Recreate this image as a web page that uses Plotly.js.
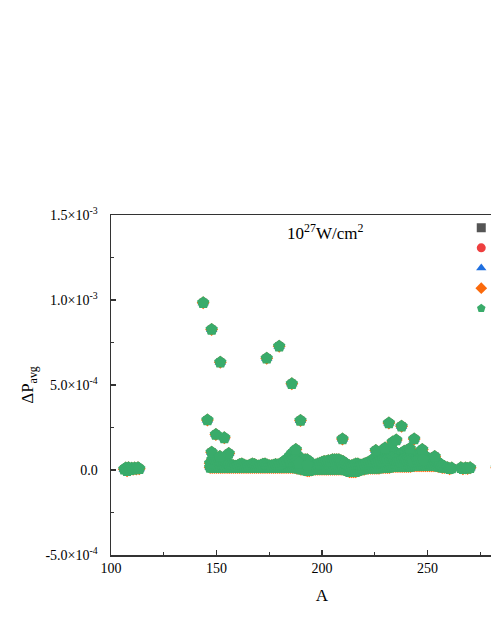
<!DOCTYPE html>
<html>
<head>
<meta charset="utf-8">
<script src="https://cdn.plot.ly/plotly-3.0.1.min.js"></script>
<style>
  html, body { margin: 0; padding: 0; overflow: hidden; background: #fff; }
</style>
</head>
<body>
<div id="chart"></div>
<script>
// left group, A ~ 106-114
var leftA = [106.3, 107, 107.6, 108.3, 109, 109.8, 110.5, 111.2, 112, 112.8, 113.4];
var leftP = [0.5e-5, 1.2e-5, -0.4e-5, 1.3e-5, 0.2e-5, 1.1e-5, 0.5e-5, 1.2e-5, 0.6e-5, 1.3e-5, 0.8e-5];

// main body, top and bottom of each column
var bodyA = [147, 148, 149, 150, 151, 152, 153, 154, 155, 156, 157, 158, 159, 160,
  161, 162, 163, 164, 165, 166, 167, 168, 169, 170, 171, 172, 173, 174, 175, 176,
  177, 178, 179, 180, 181, 182, 183, 184, 185, 186, 187, 188, 189, 190, 191, 192,
  193, 194, 195, 196, 197, 198, 199, 200, 201, 202, 203, 204, 205, 206, 207, 208,
  209, 210, 211, 212, 213, 214, 215, 216, 217, 218, 219, 220, 221, 222, 223, 224,
  225, 226, 227, 228, 229, 230, 231, 232, 233, 234, 235, 236, 237, 238, 239, 240,
  241, 242, 243, 244, 245, 246, 247, 248, 249, 250, 251, 252, 253, 254, 255, 256,
  257, 258];
var bodyTop = [4e-5, 6e-5, 6.5e-5, 6e-5, 6e-5, 6e-5, 6.5e-5, 5.5e-5, 4.5e-5, 3.5e-5, 3e-5, 2.5e-5, 2.2e-5, 2.5e-5,
  3.2e-5, 3.6e-5, 3e-5, 2.3e-5, 2.3e-5, 3e-5, 3.6e-5, 3.2e-5, 2.5e-5, 2.3e-5, 2.8e-5, 3.4e-5, 3.6e-5, 3e-5, 2.5e-5, 2.5e-5,
  2.8e-5, 3.2e-5, 3e-5, 3.4e-5, 4.2e-5, 5e-5, 6e-5, 7e-5, 8.5e-5, 10e-5, 11e-5, 9e-5, 7.5e-5, 6.5e-5, 6e-5, 6e-5,
  6e-5, 5e-5, 3e-5, 2e-5, 3e-5, 3.5e-5, 4e-5, 4.5e-5, 5e-5, 5e-5, 5.5e-5, 5.5e-5, 6e-5, 6e-5, 6e-5, 6e-5,
  5.5e-5, 5e-5, 4e-5, 3e-5, 2.5e-5, 2.5e-5, 3e-5, 3.5e-5, 3.5e-5, 3e-5, 3e-5, 3.5e-5, 4e-5, 4.5e-5, 5e-5, 6e-5,
  7e-5, 8e-5, 9e-5, 9.5e-5, 10e-5, 11e-5, 11e-5, 12e-5, 12e-5, 11e-5, 10e-5, 9e-5, 9e-5, 10e-5, 11e-5, 10e-5,
  11e-5, 10e-5, 9e-5, 8e-5, 9e-5, 10e-5, 10e-5, 9e-5, 8e-5, 7e-5, 6e-5, 6e-5, 6.5e-5, 5.5e-5, 4.5e-5, 3.5e-5,
  2.5e-5, 2e-5];
var bodyLow = [1.5e-5, 1.5e-5, 1.5e-5, 1.5e-5, 1.5e-5, 1.5e-5, 1.5e-5, 1.5e-5, 1.5e-5, 1.5e-5, 1.5e-5, 1.5e-5, 1.5e-5, 1.5e-5,
  1.5e-5, 1.5e-5, 1.5e-5, 1.5e-5, 1.5e-5, 1.5e-5, 1.5e-5, 1.5e-5, 1.5e-5, 1.5e-5, 1.5e-5, 1.5e-5, 1.5e-5, 1.5e-5, 1.5e-5, 1.5e-5,
  1.5e-5, 1.5e-5, 1.5e-5, 1.5e-5, 1.5e-5, 1.5e-5, 1.5e-5, 1.5e-5, 1.5e-5, 1.5e-5, 1.5e-5, 1e-5, 1e-5, 0.5e-5, 0.5e-5, 0,
  -0.5e-5, -0.5e-5, 0, 0.5e-5, 0.5e-5, 0.5e-5, 0.5e-5, 0.5e-5, 0.5e-5, 0.5e-5, 0.5e-5, 0.5e-5, 0.5e-5, 0.5e-5, 0.5e-5, 0.5e-5,
  0.5e-5, 0.5e-5, 0, -0.5e-5, -1e-5, -1e-5, -1e-5, -1e-5, -0.5e-5, 0, 0.5e-5, 0.5e-5, 1e-5, 1e-5, 1e-5, 1e-5,
  1e-5, 1e-5, 1e-5, 1.5e-5, 1.5e-5, 1.5e-5, 1.5e-5, 1.5e-5, 2e-5, 2e-5, 2e-5, 2e-5, 2e-5, 2e-5, 2e-5, 2e-5,
  2e-5, 2e-5, 2.5e-5, 2.5e-5, 2.5e-5, 2.5e-5, 2.5e-5, 2.5e-5, 2.5e-5, 2.5e-5, 2.5e-5, 2.5e-5, 2.5e-5, 2.5e-5, 2e-5, 2e-5,
  1.5e-5, 1.5e-5];

// points filling the taller columns
var fillA = [185, 186, 187, 188, 189, 193, 226, 227, 228, 229, 230, 231, 232, 233, 234,
  235, 236, 237, 238, 239, 240, 241, 242, 243, 245, 246, 247, 248];
var fillP = [5e-5, 6e-5, 6e-5, 5e-5, 4e-5, 3e-5, 4.5e-5, 5e-5, 5.5e-5, 6e-5, 6e-5, 6e-5, 7e-5, 7e-5, 6.5e-5,
  6e-5, 5.5e-5, 5.5e-5, 6e-5, 6.5e-5, 6e-5, 6.5e-5, 6e-5, 5.5e-5, 6e-5, 6e-5, 6e-5, 6e-5];

// isolated points above the body
var peakA = [143.7, 147.7, 151.8, 173.8, 179.7, 185.7, 145.7, 189.8, 149.7, 153.7, 147.7, 155.8,
  151.6, 187.6, 209.7, 225.5, 229.9, 231.7, 233.5, 235.2, 237.7, 241.6, 243.7, 247.5, 253.4];
var peakP = [9.84e-4, 8.26e-4, 6.34e-4, 6.58e-4, 7.28e-4, 5.08e-4, 2.94e-4, 2.91e-4, 2.09e-4, 1.89e-4, 1.05e-4, 0.97e-4,
  0.8e-4, 1.2e-4, 1.83e-4, 1.15e-4, 1.3e-4, 2.76e-4, 1.64e-4, 1.76e-4, 2.58e-4, 1.27e-4, 1.83e-4, 1.2e-4, 0.8e-4];

// heavy tail
var tailA = [259.5, 260.5, 261.5, 265.8, 266.8, 268, 269, 270.2, 282.8];
var tailP = [1.3e-5, 0.8e-5, 1.2e-5, 1.3e-5, 0.8e-5, 1.2e-5, 0.9e-5, 1.3e-5, 1.3e-5];

var seriesNames = ["", "", "", "", ""];
var seriesSymbols = ["square", "circle", "triangle-up", "diamond", "pentagon"];
var seriesColors = ["#555555", "#ee3f3f", "#1f6fe0", "#fb6a0c", "#39ab6a"];
var seriesSizes = [8, 10, 10, 10, 13];

var yTickVals = [-5e-4, 0, 5e-4, 1e-3, 1.5e-3];
var yTickText = ["-5.0×10<sup>-4</sup>", "0.0", "5.0×10<sup>-4</sup>", "1.0×10<sup>-3</sup>", "1.5×10<sup>-3</sup>"];

var allA = [].concat(leftA, bodyA, bodyA, fillA, peakA, tailA);
var allP = [].concat(leftP, bodyLow, bodyTop, fillP, peakP, tailP);

var serif = "Liberation Serif, Times New Roman, serif";
var traces = [];
for (var i = 0; i < 5; i++) {
  traces.push({
    x: allA,
    y: allP,
    type: "scatter",
    mode: "markers",
    name: seriesNames[i],
    showlegend: false,
    marker: { symbol: seriesSymbols[i], size: seriesSizes[i], color: seriesColors[i], line: { width: 0 } },
  });
}
// legend entries, smaller symbols
for (var j = 0; j < 5; j++) {
  traces.push({
    x: [null],
    y: [null],
    type: "scatter",
    mode: "markers",
    name: seriesNames[j],
    marker: { symbol: seriesSymbols[j], size: 9, color: seriesColors[j], line: { width: 0 } },
  });
}

var layout = {
  width: 540,
  height: 635,
  margin: { l: 111, r: 7, t: 215, b: 80 },
  paper_bgcolor: "#fff",
  plot_bgcolor: "#fff",
  font: { family: serif, size: 14, color: "#000" },
  showlegend: true,
  legend: {
    x: 0.83, xanchor: "left", y: 1.007, yanchor: "top",
    bgcolor: "rgba(0,0,0,0)", font: { family: serif, size: 13.2 },
    tracegroupgap: 0,
  },
  xaxis: {
    range: [100, 300],
    tick0: 100, dtick: 50,
    ticks: "inside", ticklen: 5, tickwidth: 1.2, tickcolor: "#333",
    showline: true, linecolor: "#333", linewidth: 1.5, mirror: true,
    showgrid: false, zeroline: false,
    minor: { tickvals: [125, 175, 225, 275], ticks: "inside", ticklen: 3, tickcolor: "#333", showgrid: false },
    tickfont: { family: serif, size: 14 },
    title: { text: "A", font: { family: serif, size: 17 }, standoff: 14 },
  },
  yaxis: {
    range: [-5e-4, 1.5e-3],
    tickmode: "array", tickvals: yTickVals, ticktext: yTickText,
    ticks: "inside", ticklen: 5, tickwidth: 1.2, tickcolor: "#333",
    showline: true, linecolor: "#333", linewidth: 1.5, mirror: true,
    showgrid: false, zeroline: false,
    minor: { tickvals: [-2.5e-4, 2.5e-4, 7.5e-4, 1.25e-3], ticks: "inside", ticklen: 3, tickcolor: "#333", showgrid: false },
    tickfont: { family: serif, size: 14 },
    ticklabelstandoff: 9,
    title: { text: "ΔP<sub>avg</sub>", font: { family: serif, size: 17 }, standoff: 7 },
  },
  annotations: [{
    xref: "x", yref: "y", x: 182.5, y: 1.398e-3, xanchor: "left", yanchor: "middle",
    text: "10<sup>27</sup>W/cm<sup>2</sup>", showarrow: false,
    font: { family: serif, size: 17, color: "#000" },
  }],
};

Plotly.newPlot("chart", traces, layout, { displayModeBar: false, staticPlot: true });
</script>
</body>
</html>
